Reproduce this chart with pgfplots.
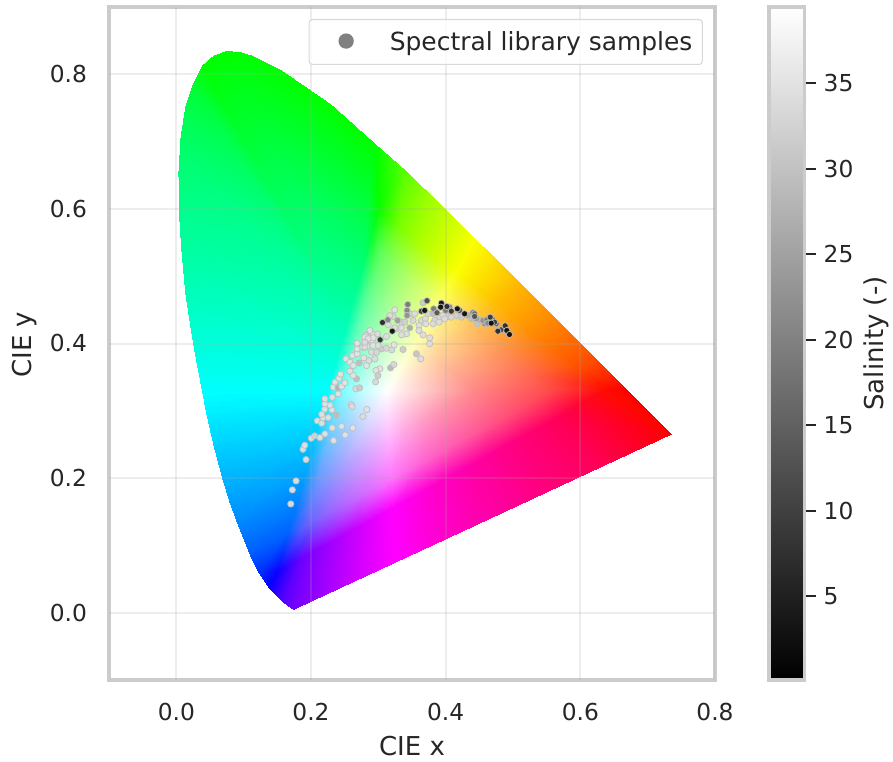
\documentclass[border=0pt]{standalone}
\usepackage{fontspec}
\setmainfont{DejaVu Sans}
\usepackage{pgfplots}
\usepackage{pgfplotstable}
\usepgfplotslibrary{patchplots}
\pgfplotsset{compat=1.18}
\definecolor{tx}{gray}{0.15}
\definecolor{fr}{gray}{0.8}
\pgfplotstableread{
x y c
.3127 .329 1,1,1
.415 .3136 1,.56,.62
.5044 .2999 1,.305,.435
.5683 .2904 1,0,.335
.7347 .2653 1,0,0

.3127 .329 1,1,1
.4427 .3301 1,.532,.53
.5565 .3311 1,.29,.285
.6378 .3317 1,.046,0
.668 .332 1,0,0

.3127 .329 1,1,1
.4247 .3445 1,.612,.56
.5226 .358 1,.43,.305
.5926 .3677 1,.33,0
.627 .3725 1,.278,0

.3127 .329 1,1,1
.4029 .3617 1,.715,.595
.4819 .3903 1,.585,.335
.5382 .4108 1,.517,0
.5752 .4242 1,.48,0

.3127 .329 1,1,1
.3786 .381 1,.845,.65
.4363 .4265 1,.77,.38
.4775 .459 1,.73,0
.5125 .4866 1,.705,0

.3127 .329 1,1,1
.3542 .4004 .99,1,.715
.3906 .4628 .987,1,.445
.4166 .5074 .985,1,0
.4441 .5547 .98,1,0

.3127 .329 1,1,1
.331 .4188 .82,1,.675
.3471 .4973 .715,1,.405
.3586 .5535 .655,1,0
.3731 .6245 .59,1,0

.3127 .329 1,1,1
.32 .4275 .74,1,.66
.3265 .5137 .575,1,.39
.3311 .5753 .47,1,0
.3373 .6589 .325,1,0

.3127 .329 1,1,1
.3078 .4373 .645,1,.645
.3034 .5321 .375,1,.37
.3003 .5997 .025,1,0
.296 .695 0,1,0

.3127 .329 1,1,1
.2982 .4034 .675,1,.75
.2854 .4685 .40,1,.58
.2764 .515 0,1,.47
.2296 .7543 0,1,0

.3127 .329 1,1,1
.2936 .3868 .69,1,.80
.2768 .4374 .42,1,.67
.2648 .4735 0,1,.587
.1547 .8059 0,1,0

.3127 .329 1,1,1
.2919 .381 .70,1,.82
.2738 .4265 .42,1,.70
.2608 .459 0,1,.626
.1142 .8262 0,1,0

.3127 .329 1,1,1
.2912 .3785 .7025,1,.8275
.2725 .4218 .425,1,.7125
.259 .4527 0,1,.643
.0935 .8325 0,1,0

.3127 .329 1,1,1
.2905 .376 .705,1,.835
.2711 .417 .43,1,.725
.2573 .4463 0,1,.66
.0743 .8338 0,1,0

.3127 .329 1,1,1
.2898 .3734 .7075,1,.8425
.2698 .4121 .4325,1,.74
.2555 .4398 0,1,.678
.0555 .8265 0,1,0

.3127 .329 1,1,1
.2891 .3707 .71,1,.85
.2684 .4071 .435,1,.755
.2536 .4332 0,1,.695
.0389 .812 0,1,0

.3127 .329 1,1,1
.2883 .3677 .7125,1,.8625
.2669 .4015 .4375,1,.771
.2516 .4257 0,1,.716
.025 .784 0,1,.188

.3127 .329 1,1,1
.2874 .3646 .715,1,.875
.2653 .3958 .44,1,.787
.2495 .4181 0,1,.737
.0139 .7502 0,1,.29

.3127 .329 1,1,1
.2865 .3612 .72,1,.8875
.2635 .3893 .445,1,.81
.2471 .4095 0,1,.761
.007 .705 0,1,.385

.3127 .329 1,1,1
.2855 .3577 .725,1,.90
.2617 .3828 .45,1,.83
.2447 .4008 0,1,.785
.0039 .6548 0,1,.465

.3127 .329 1,1,1
.2844 .3535 .73,1,.915
.2595 .375 .455,1,.8525
.2418 .3903 0,1,.8125
.0045 .596 0,1,.55

.3127 .329 1,1,1
.2832 .3493 .735,1,.93
.2573 .3671 .46,1,.875
.2388 .3798 0,1,.84
.0082 .5384 0,1,.635

.3127 .329 1,1,1
.2817 .3439 .7425,1,.9475
.2545 .3569 .469,1,.9075
.2351 .3662 0,1,.8825
.014 .475 0,1,.73

.3127 .329 1,1,1
.2801 .3384 .75,1,.965
.2516 .3467 .478,1,.94
.2313 .3526 0,1,.925
.0235 .4127 0,1,.835

.3127 .329 1,1,1
.2788 .3337 .755,1,.98
.2492 .3378 .484,1,.97
.228 .3407 0,1,.9625
.031 .37 0,1,.91

.3127 .329 1,1,1
.2775 .3289 .76,1,1
.2467 .3288 .49,1,1
.2247 .3287 0,1,1
.0392 .3282 0,1,1

.3127 .329 1,1,1
.2762 .3244 .755,.983,1
.2443 .3203 .485,.97,1
.2215 .3174 0,.96,1
.0454 .295 0,.925,1

.3127 .329 1,1,1
.2739 .3159 .744,.9525,1
.2399 .3044 .4725,.919,1
.2156 .2961 0,.8975,1
.0565 .2465 0,.815,1

.3127 .329 1,1,1
.2715 .3073 .733,.922,1
.2354 .2884 .46,.868,1
.2097 .2748 0,.835,1
.0687 .2007 0,.71,1

.3127 .329 1,1,1
.2688 .2975 .7215,.8885,1
.2303 .2699 .4475,.8125,1
.2029 .2502 0,.7675,1
.0795 .165 0,.62,1

.3127 .329 1,1,1
.266 .2876 .71,.855,1
.2252 .2514 .435,.757,1
.196 .2255 0,.70,1
.0913 .1327 0,.53,1

.3127 .329 1,1,1
.26 .2662 .6875,.785,1
.214 .2112 .415,.641,1
.1811 .172 0,.5425,1
.1096 .0868 0,.36,1

.3127 .329 1,1,1
.2541 .2447 .665,.715,1
.2028 .171 .395,.525,1
.1662 .1184 0,.385,1
.1241 .0578 0,.17,1

.3127 .329 1,1,1
.2481 .2217 .648,.646,1
.1915 .1277 .38,.375,1
.1511 .0606 .05,0,1
.1375 .038 0,0,1

.3127 .329 1,1,1
.263 .2299 .725,.66,1
.2195 .1431 .55,.39,1
.1884 .0811 .435,0,1
.1566 .0177 .31,0,1

.3127 .329 1,1,1
.2725 .2351 .78,.67,1
.2374 .153 .64,.395,1
.2123 .0943 .56,0,1
.1741 .005 .445,0,1

.3127 .329 1,1,1
.295 .2475 .89,.695,1
.2795 .1762 .83,.42,1
.2685 .1253 .795,0,1
.25 .0403 .75,0,1

.3127 .329 1,1,1
.316 .259 1,.72,1
.3188 .1979 1,.45,1
.3209 .1541 1,0,1
.3246 .0748 1,0,1

.3127 .329 1,1,1
.3413 .273 1,.665,.88
.3663 .224 1,.395,.82
.3842 .189 1,0,.79
.42 .119 1,0,.745

.3127 .329 1,1,1
.3663 .2868 1,.62,.78
.4131 .2498 1,.36,.68
.4466 .2234 1,0,.625
.52 .1655 1,0,.545

.3127 .329 1,1,1
.392 .3009 1,.585,.69
.4613 .2764 1,.33,.55
.5109 .2588 1,0,.475
.63 .2166 1,0,.34

.3127 .329 1,1,1
.415 .3136 1,.56,.62
.5044 .2999 1,.305,.435
.5683 .2904 1,0,.335
.7347 .2653 1,0,0
}\fieldtable
\pgfplotstableread{
x y s
.170 .1616 35
.1723 .1825 35
.1778 .1958 35
.1926 .2275 35
.1881 .2428 35
.1907 .2488 35
.2004 .2592 35
.2055 .2628 33
.2133 .2602 35
.2207 .2657 35
.2336 .2558 35
.2508 .2642 35
.2622 .2747 35
.2455 .2770 35
.2316 .2747 35
.2093 .2851 35
.2159 .2815 35
.2178 .2895 35
.2256 .29 35
.2375 .2934 29
.2159 .2949 35
.2203 .3023 35
.2311 .3014 35
.2281 .3083 35
.2207 .3103 35
.2597 .3093 34
.2612 .3063 34
.283 .3019 35
.277 .2914 34
.2207 .3178 35
.2316 .3201 35
.2404 .3252 35
.233 .335 35
.2404 .3341 27
.2455 .3361 35
.2504 .3416 35
.2356 .3425 35
.2415 .3484 35
.244 .3544 35
.2677 .3475 29
.2667 .3326 34
.2721 .3341 31
.2578 .3588 35
.2627 .3524 35
.2519 .3772 35
.2618 .3822 35
.2578 .3722 35
.2627 .3673 35
.2716 .3713 29
.2825 .3673 35
.2785 .3787 35
.2859 .3747 34
.2686 .3847 35
.2686 .3921 35
.2686 .4004 35
.2766 .3945 34
.281 .401 30
.2815 .4119 35
.2874 .4183 35
.2923 .4134 35
.2988 .4144 34
.2914 .4045 35
.2834 .3955 35
.2899 .3871 34
.2973 .3871 33
.2948 .3772 34
.3047 .3921 31
.3121 .393 33
.32 .3906 33
.3234 .3981 35
.3121 .4104 34
.3145 .4278 34
.3022 .3624 35
.2963 .3599 35
.2993 .3524 31
.2959 .3431 33
.3181 .3639 28
.323 .3688 33
.28 .4094 35
.2923 .397 35
.28 .3945 34
.2874 .4193 35
.2923 .4085 35
.2849 .407 35
.28 .4019 34
.2997 .397 34
.3219 .4402 33
.327 .4219 33
.3344 .4317 33
.3393 .4317 32
.3516 .4342 33
.3467 .4442 33
.3738 .4442 33
.364 .4342 33
.3911 .4391 33
.3837 .4342 33
.4034 .4402 32
.4159 .4416 32
.4233 .4391 31
.3244 .4233 34
.317 .4416 34
.3244 .4501 35
.3344 .4233 34
.3467 .4233 26
.3418 .4144 34
.3344 .4129 34
.3541 .4442 34
.3664 .4605 31
.3699 .4367 34
.3812 .4442 29
.396 .4416 34
.4084 .4391 33
.3985 .4367 34
.3901 .4317 34
.3812 .4293 34
.3704 .4293 34
.3604 .4268 34
.3604 .4193 34
.3664 .4129 34
.3763 .4085 34
.3763 .3996 34
.3566 .3847 30
.363 .3772 34
.3367 .3911 31
.4464 .4293 30
.4381 .4367 29
.433 .4416 26
.4504 .4352 26
.4455 .4367 24
.4578 .4293 22
.3287 .4342 24
.3141 .4352 20
.3437 .458 18
.3427 .4491 20
.3427 .4416 22
.3822 .4516 18
.4 .4491 18
.4059 .454 20
.4404 .4457 18
.4553 .4342 22
.4612 .4352 18
.4627 .4302 20
.443 .4442 16
.47 .4352 14
.4751 .4293 14
.3871 .4457 12
.4207 .4491 12
.443 .4402 12
.3723 .4635 10
.4825 .4204 10
.3027 .4055 6
.3062 .4312 5
.364 .448 8
.4019 .455 6
.4084 .448 7
.4662 .4391 8
.4726 .4317 8
.4775 .4183 6
.4884 .4263 6
.3207 .4183 1
.3936 .46 1
.3926 .454 1
.3689 .4491 1
.4173 .4516 1
.4281 .4442 1
.4677 .4302 1
.4908 .4193 1
.4948 .4134 1
}\sampletable
\pgfplotstableread{
x y
0 0.1
1 0.1

0 39.45
1 39.45
}\cbartable
\begin{document}
\begin{tikzpicture}
\path[use as bounding box] (-81.75pt,-60.75pt) rectangle (588pt,510pt);
\begin{axis}[
  at={(0pt,0pt)}, anchor=south west,
  scale only axis, width=454.5pt, height=504.75pt,
  xmin=-0.1, xmax=0.8, ymin=-0.1, ymax=0.9,
  xtick={0,0.2,0.4,0.6,0.8}, ytick={0,0.2,0.4,0.6,0.8},
  axis line style={fr, line width=2.5pt},
  major tick length=0pt,
  xticklabel style={yshift=-14pt},
  yticklabel style={xshift=-13pt},
  tick label style={text=tx, font=\fontsize{17.5}{21}\selectfont},
  /pgf/number format/assume math mode=true,
  /pgf/number format/fixed, /pgf/number format/fixed zerofill, /pgf/number format/precision=1,
  xlabel={CIE x}, ylabel={CIE y},
  xlabel style={at={(axis description cs:0.5,-0.0985)}, anchor=center, text=tx, font=\fontsize{19.5}{23}\selectfont},
  ylabel style={at={(axis description cs:-0.1386,0.498)}, anchor=center, text=tx, font=\fontsize{19.5}{23}\selectfont},
  colormap={bw}{gray(0cm)=(0); gray(1cm)=(1)},
  point meta min=0.1, point meta max=39.45,
  legend style={at={(0.9802,0.9822)}, anchor=north east, draw=black!15, line width=0.8pt, rounded corners=2.5pt,
     fill=white, fill opacity=0.85, text opacity=1, text=tx, font=\fontsize{18.7}{22}\selectfont,
     inner xsep=7.5pt, inner ysep=9pt, nodes={inner xsep=0pt, inner ysep=0pt}},
  legend cell align=left,
  legend image code/.code={\path[draw=none] (0pt,0pt) -- (53pt,0pt); \fill[gray, draw=none, fill opacity=1] (20.25pt,0.7pt) circle (5.75pt);},
]
\addplot[surf, shader=interp, mesh/rows=42, mesh/color input=explicit, forget plot]
  table[x=x, y=y, meta=c] {\fieldtable};
\pgfplotsinvokeforeach{0,0.2,0.4,0.6,0.8}{
  \addplot[forget plot, color=gray!70, opacity=0.2, line width=1.5pt] coordinates {(#1,-0.1) (#1,0.9)};
  \addplot[forget plot, color=gray!70, opacity=0.2, line width=1.5pt] coordinates {(-0.1,#1) (0.8,#1)};
}
\addplot[forget plot, scatter, only marks, mark=*, mark size=2.35pt, point meta=explicit,
  scatter/use mapped color={draw=gray!50, fill=mapped color, opacity=0.92}, line width=0.6pt]
  table[x=x, y=y, meta=s] {\sampletable};
\addlegendimage{gray}
\addlegendentry{Spectral library samples}
\end{axis}
\begin{axis}[
  at={(495pt,0pt)}, anchor=south west,
  scale only axis, width=26.5pt, height=504.75pt,
  xmin=0, xmax=1, ymin=0.1, ymax=39.45,
  xtick=\empty, ytick={5,10,15,20,25,30,35},
  ytick pos=right, yticklabel pos=right,
  tick align=outside, major tick length=9pt,
  tick style={color=tx, line width=1.6pt},
  axis line style={fr, line width=2.5pt},
  yticklabel style={xshift=2pt, text=tx, font=\fontsize{17.5}{21}\selectfont},
  /pgf/number format/assume math mode=true,
  ylabel={Salinity (-)},
  ylabel style={at={(axis description cs:3.03,0.5)}, anchor=center, rotate=0, text=tx, font=\fontsize{19.5}{23}\selectfont},
  axis on top,
  colormap={bw}{gray(0cm)=(0); gray(1cm)=(1)},
]
\addplot[surf, shader=interp, mesh/rows=2, point meta=y]
  table[x=x, y=y] {\cbartable};
\end{axis}
\end{tikzpicture}
\end{document}
